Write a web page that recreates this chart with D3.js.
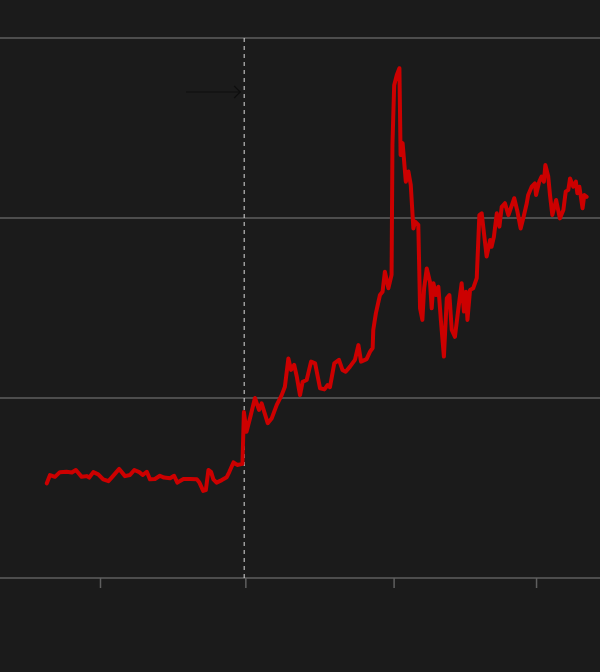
<!DOCTYPE html>
<html><head><meta charset="utf-8">
<script src="https://cdn.jsdelivr.net/npm/d3@7"></script>
<style>html,body{margin:0;padding:0;background:#1b1b1b;}svg{display:block;}</style>
</head><body>
<script>
const years = [1998.17,1998.28,1998.45,1998.62,1998.85,1999.03,1999.17,1999.37,1999.54,1999.63,1999.77,1999.94,2000.11,2000.29,2000.40,2000.66,2000.86,2001.03,2001.18,2001.35,2001.47,2001.61,2001.72,2001.89,2002.06,2002.20,2002.41,2002.55,2002.66,2002.87,2003.10,2003.33,2003.42,2003.55,2003.64,2003.73,2003.82,2003.90,2004.01,2004.19,2004.36,2004.45,2004.59,2004.72,2004.90,2004.95,2005.04,2005.16,2005.33,2005.47,2005.56,2005.77,2005.91,2006.08,2006.25,2006.36,2006.48,2006.57,2006.68,2006.77,2006.88,2006.97,2007.11,2007.26,2007.40,2007.57,2007.72,2007.83,2007.91,2008.06,2008.22,2008.34,2008.45,2008.60,2008.77,2008.89,2008.98,2009.17,2009.29,2009.38,2009.40,2009.49,2009.63,2009.72,2009.80,2009.92,2010.03,2010.06,2010.12,2010.21,2010.30,2010.34,2010.41,2010.52,2010.61,2010.69,2010.78,2010.84,2010.95,2011.01,2011.09,2011.15,2011.24,2011.35,2011.41,2011.47,2011.56,2011.64,2011.73,2011.83,2011.93,2012.02,2012.10,2012.21,2012.33,2012.44,2012.52,2012.59,2012.64,2012.73,2012.84,2012.96,2013.05,2013.13,2013.30,2013.42,2013.47,2013.55,2013.65,2013.74,2013.82,2013.93,2014.05,2014.13,2014.25,2014.36,2014.47,2014.56,2014.68,2014.73,2014.85,2014.96,2015.00,2015.11,2015.19,2015.27,2015.32,2015.42,2015.48,2015.56,2015.69,2015.82,2015.94,2016.02,2016.11,2016.17,2016.28,2016.37,2016.42,2016.49,2016.60,2016.66,2016.74];
const values = [26.3,28.6,28.1,29.4,29.5,29.3,30.0,28.1,28.3,27.9,29.4,28.8,27.4,26.9,27.9,30.3,28.3,28.6,30.0,29.4,28.6,29.5,27.4,27.5,28.4,27.9,27.7,28.4,26.5,27.5,27.5,27.4,26.5,24.2,24.4,30.0,29.5,27.4,26.5,27.2,28.0,29.5,32.1,31.4,31.7,46.1,40.6,44.4,50.0,46.7,48.5,43.0,44.4,48.1,50.8,53.1,61.0,57.8,59.2,55.9,50.8,54.5,55.0,60.1,59.6,52.7,52.4,53.6,53.0,59.6,60.6,57.8,57.3,58.7,60.6,64.7,60.1,60.8,62.9,63.9,68.9,73.5,78.6,79.5,85.1,80.5,84.2,120.3,136.9,139.7,141.6,117.5,120.8,110.1,112.9,109.2,97.1,99.0,98.1,74.9,71.7,80.5,86.0,82.3,74.9,81.9,78.6,80.9,71.2,61.5,77.7,78.6,68.9,67.0,74.9,81.9,74.0,79.5,71.7,80.0,80.5,83.3,100.8,101.3,89.3,93.9,92.0,94.8,101.3,97.6,103.1,104.1,100.8,102.7,105.5,101.8,97.1,99.9,104.1,106.4,108.7,109.6,106.4,110.1,111.5,110.1,114.7,111.5,106.4,100.8,105.0,99.9,102.2,107.3,107.8,111.0,108.7,110.1,106.9,108.7,102.7,106.4,105.9];
const xTicks = [2000, 2005, 2010.1, 2015];
const yTicks = [0, 50, 100, 150];
const eventYear = 2004.96;

const W = 600, H = 672;
const svg = d3.select("body").append("svg").attr("width", W).attr("height", H);
svg.append("rect").attr("width", W).attr("height", H).attr("fill", "#1b1b1b");

const x = d3.scaleLinear().domain([1996.56, 2017.2]).range([0, 600]);
const y = d3.scaleLinear().domain([0, 150]).range([578, 38]);

// gridlines
svg.append("g").selectAll("line").data(yTicks).join("line")
  .attr("x1", 0).attr("x2", W)
  .attr("y1", d => y(d)).attr("y2", d => y(d))
  .attr("stroke", "#5f5f5f").attr("stroke-width", 1.5);

// x axis ticks
const xa = svg.append("g").attr("transform", `translate(0,${y(0)})`)
  .call(d3.axisBottom(x).tickValues(xTicks).tickSize(10).tickFormat(""));
xa.select(".domain").remove();
xa.selectAll(".tick line").attr("stroke", "#5f5f5f").attr("stroke-width", 1.5);

// event dashed line
svg.append("line")
  .attr("x1", x(eventYear)).attr("x2", x(eventYear))
  .attr("y1", y(150)).attr("y2", y(0))
  .attr("stroke", "#dddddd").attr("stroke-width", 1).attr("stroke-dasharray", "4,4");

// arrow
const ay = 92;
const ax2 = x(eventYear) - 4;
svg.append("line").attr("x1", ax2 - 54).attr("x2", ax2).attr("y1", ay).attr("y2", ay)
  .attr("stroke", "#0e0e0e").attr("stroke-width", 1);
svg.append("path").attr("d", `M${ax2-6},${ay-6}L${ax2},${ay}L${ax2-6},${ay+6}`)
  .attr("fill", "none").attr("stroke", "#0e0e0e").attr("stroke-width", 1.2);

// line
const data = years.map((t, i) => ({t, v: values[i]}));
svg.append("path").datum(data)
  .attr("fill", "none").attr("stroke", "#cc0000").attr("stroke-width", 4)
  .attr("stroke-linejoin", "round").attr("stroke-linecap", "round")
  .attr("d", d3.line().x(d => x(d.t)).y(d => y(d.v)));
</script>
</body></html>
